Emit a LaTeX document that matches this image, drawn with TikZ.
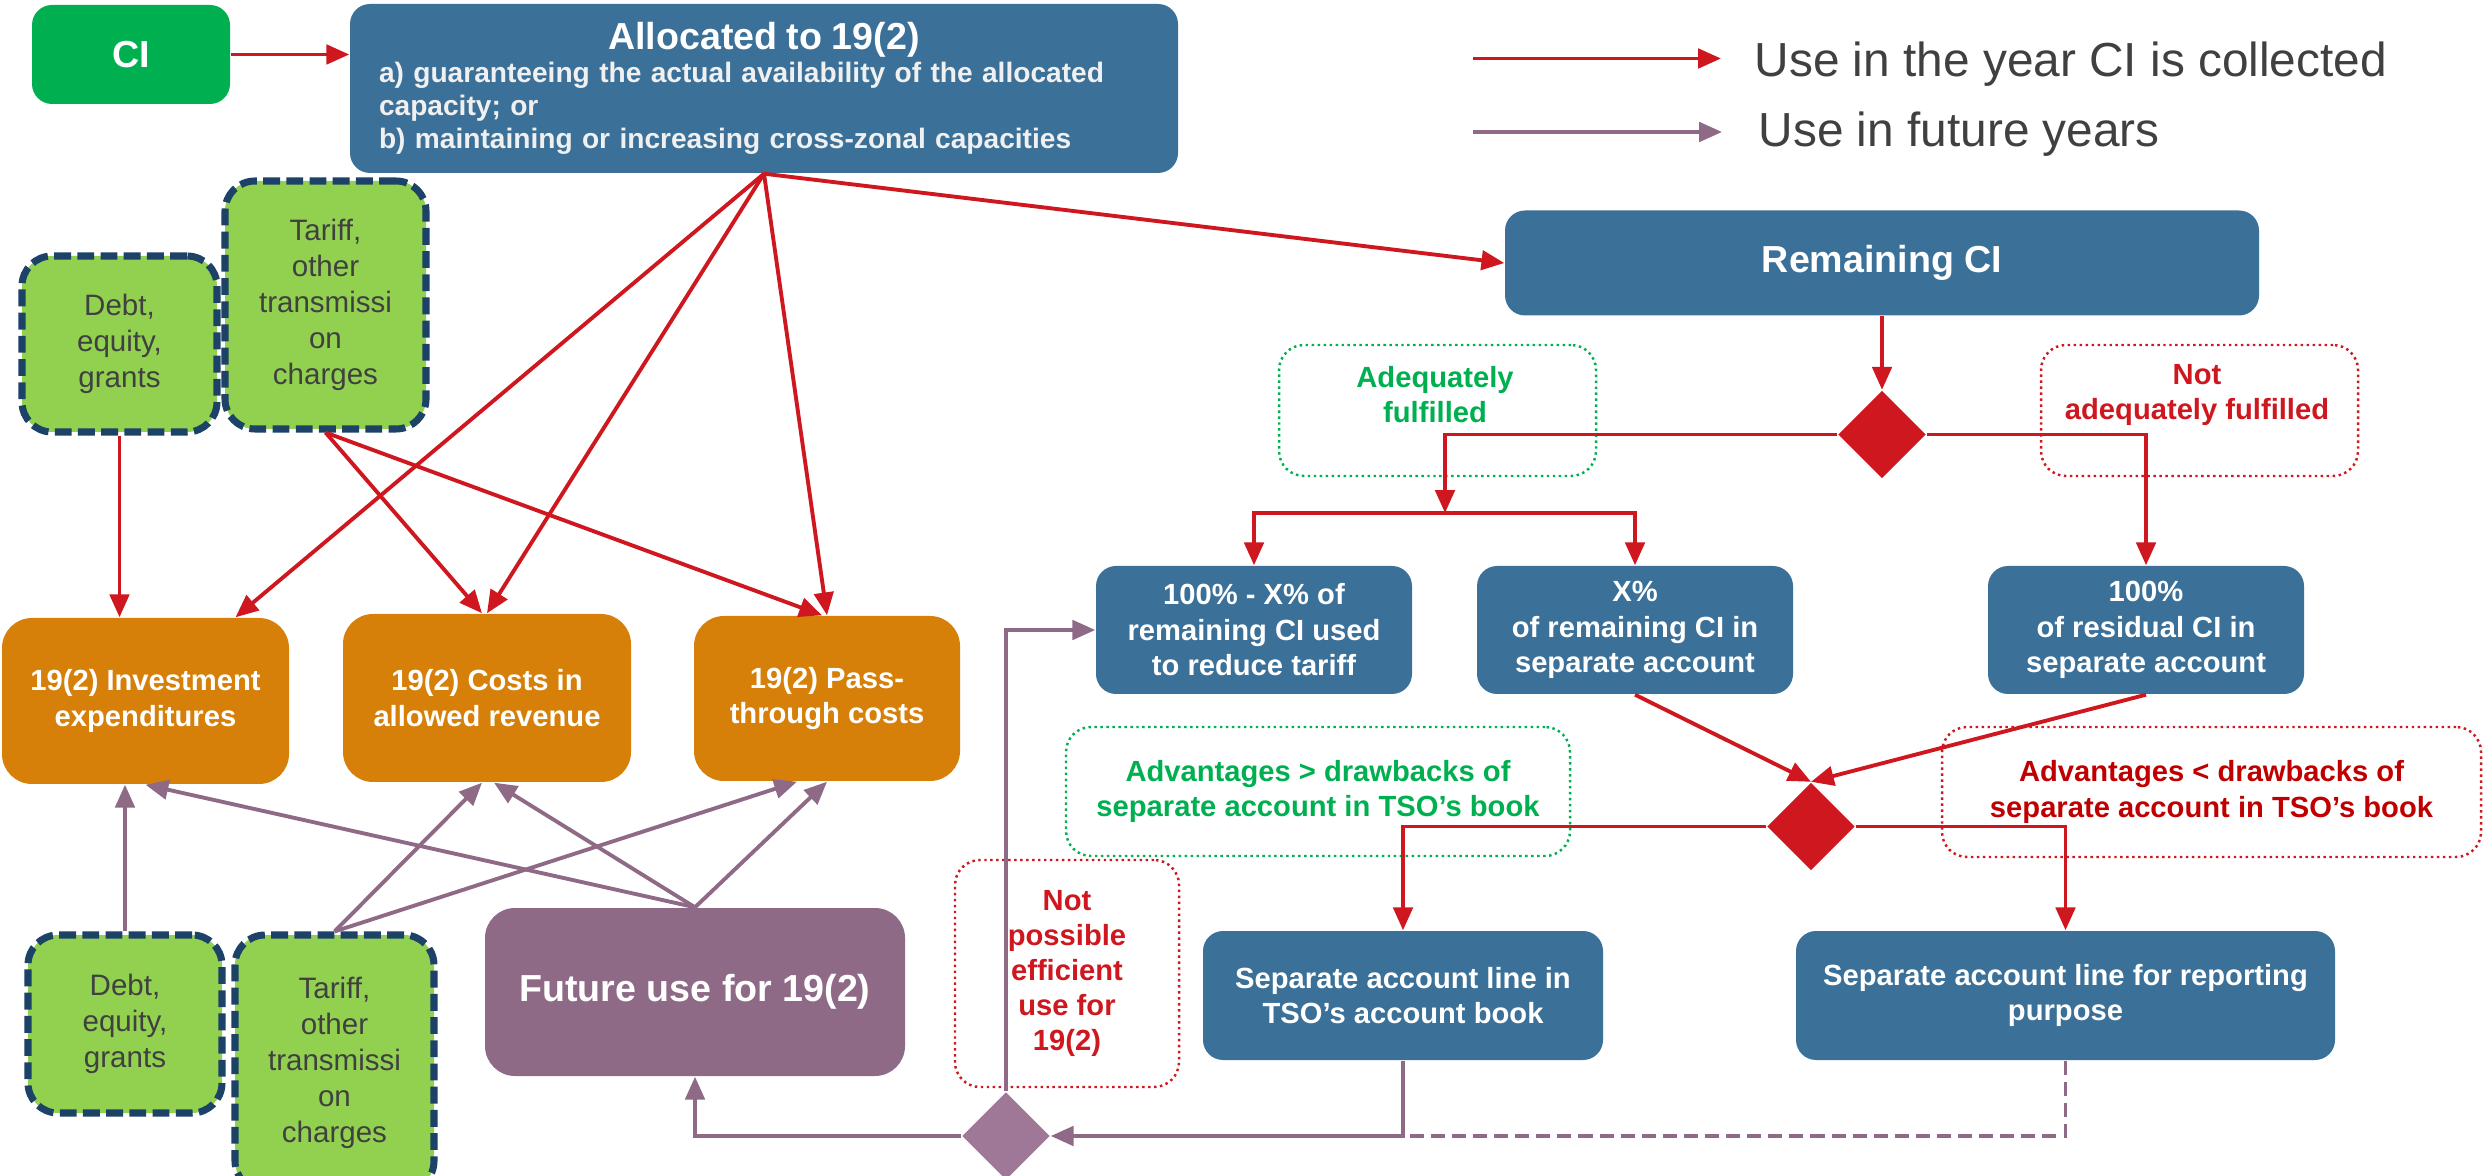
\documentclass[tikz,border=0pt]{standalone}
\usepackage{fontspec}
\setmainfont{Liberation Sans}
\usetikzlibrary{shapes.geometric, arrows.meta}

\definecolor{ciblue}{RGB}{59,112,152}
\definecolor{ciorange}{RGB}{214,128,10}
\definecolor{cigreen}{RGB}{0,176,80}
\definecolor{lightgreen}{RGB}{146,208,80}
\definecolor{navy}{RGB}{28,66,104}
\definecolor{futurepurple}{RGB}{143,106,134}
\definecolor{diapurple}{RGB}{158,120,150}
\definecolor{cired}{RGB}{206,23,31}
\definecolor{darkred}{RGB}{192,0,0}
\definecolor{txtgray}{RGB}{64,64,64}

\begin{document}
\begin{tikzpicture}[
box/.style={rounded corners=0.2cm, text=white, align=center, inner sep=0pt, font=\bfseries\fontsize{8.3}{10.1}\selectfont},
bluebox/.style={box, fill=ciblue},
orangebox/.style={box, fill=ciorange, rounded corners=0.3cm},
title/.style={font=\bfseries\fontsize{10.7}{12.5}\selectfont},
source/.style={rounded corners=0.3cm, fill=lightgreen, draw=navy, line width=2pt, dash pattern=on 4.8pt off 1.8pt, text=txtgray, align=center, inner sep=0pt, font=\fontsize{8.4}{10.2}\selectfont},
note/.style={rounded corners=0.25cm, densely dotted, line width=0.7pt, align=center, inner sep=0pt, font=\bfseries\fontsize{8.3}{10}\selectfont},
choice/.style={diamond, aspect=1, inner sep=0pt, minimum width=0.88cm, minimum height=0.88cm},
now/.style={draw=cired, line width=1.1pt, -{Triangle[length=6.5pt,width=5.5pt]}},
later/.style={draw=futurepurple, line width=1.1pt, -{Triangle[length=6.5pt,width=5.5pt]}}]
\tikzstyle{legend}=[inner sep=0pt, text=txtgray, font=\fontsize{13.6}{16}\selectfont]

\useasboundingbox (0,0) rectangle (24.89,-11.76);

%Top row
\node[box, fill=cigreen, minimum width=1.98cm, minimum height=0.99cm, title] (ci) at (1.31,-0.545) {CI};
\node[bluebox, minimum width=8.28cm, minimum height=1.69cm, text width=7.7cm, align=left, text=white!94!black, font=\bfseries\fontsize{8}{9.4}\selectfont] (alloc) at (7.64,-0.885) {{\centering\color{white}\fontsize{10.7}{12.5}\selectfont Allocated to 19(2)\par}a) guaranteeing the actual availability of the allocated\\capacity; or\\b) maintaining or increasing cross-zonal capacities};

%Legend
\coordinate (keyA) at (14.73,-0.585);
\coordinate (keyAend) at (17.21,-0.585);
\node[legend, anchor=base west] (keyAtext) at (17.54,-0.77) {Use in the year CI is collected};
\coordinate (keyB) at (14.73,-1.32);
\coordinate (keyBend) at (17.22,-1.32);
\node[legend, anchor=base west] (keyBtext) at (17.58,-1.47) {Use in future years};

%Funding
\node[source, minimum width=1.95cm, minimum height=1.76cm] (debtA) at (1.195,-3.44) {Debt,\\equity,\\grants};
\node[source, minimum width=2.01cm, minimum height=2.48cm] (tariffA) at (3.255,-3.05) {Tariff,\\other\\transmissi\\on\\charges};
\node[source, minimum width=1.94cm, minimum height=1.78cm] (debtB) at (1.25,-10.24) {Debt,\\equity,\\grants};
\node[source, minimum width=1.99cm, minimum height=2.56cm] (tariffB) at (3.345,-10.63) {Tariff,\\other\\transmissi\\on\\charges};

%19(2) uses
\node[orangebox, minimum width=2.87cm, minimum height=1.66cm] (invest) at (1.455,-7.01) {19(2) Investment\\expenditures};
\node[orangebox, minimum width=2.88cm, minimum height=1.68cm] (costs) at (4.87,-6.98) {19(2) Costs in\\allowed revenue};
\node[orangebox, minimum width=2.66cm, minimum height=1.65cm] (pass) at (8.27,-6.985) {19(2) Pass-\\through costs};
\node[box, fill=futurepurple, rounded corners=0.3cm, minimum width=4.2cm, minimum height=1.68cm, title] (future) at (6.95,-9.92) {Future use for 19(2)};

%Remaining CI
\node[bluebox, minimum width=7.54cm, minimum height=1.05cm, title] (remaining) at (18.82,-2.63) {Remaining CI};
\node[choice, fill=cired] (d1) at (18.82,-4.345) {};
\node[note, draw=cigreen, minimum width=3.17cm, minimum height=1.31cm] (adeqbox) at (14.375,-4.105) {};
\node[note, text=cigreen] (adeq) at (14.35,-3.95) {Adequately\\fulfilled};
\node[note, draw=cired, minimum width=3.17cm, minimum height=1.31cm] (notadeqbox) at (21.995,-4.105) {};
\node[note, text=cired] (notadeq) at (21.97,-3.95) {Not\\adequately fulfilled};
\coordinate (split) at (14.45,-5.13);

\node[bluebox, minimum width=3.16cm, minimum height=1.28cm] (pctA) at (12.54,-6.30) {100\% - X\% of\\remaining CI used\\to reduce tariff};
\node[bluebox, minimum width=3.16cm, minimum height=1.28cm] (pctB) at (16.35,-6.30) {X\%\\of remaining CI in\\separate account};
\node[bluebox, minimum width=3.16cm, minimum height=1.28cm] (pctC) at (21.46,-6.30) {100\%\\of residual CI in\\separate account};

%Separate account
\node[choice, fill=cired] (d2) at (18.11,-8.265) {};
\node[note, draw=cigreen, text=cigreen, minimum width=5.04cm, minimum height=1.29cm] (advG) at (13.18,-7.915) {Advantages > drawbacks of\\separate account in TSO’s book};
\node[note, draw=cired, text=darkred, minimum width=5.39cm, minimum height=1.30cm] (advR) at (22.115,-7.92) {Advantages < drawbacks of\\separate account in TSO’s book};
\node[bluebox, minimum width=4.0cm, minimum height=1.29cm] (sepA) at (14.03,-9.955) {Separate account line in\\TSO’s account book};
\node[bluebox, minimum width=5.39cm, minimum height=1.29cm] (sepB) at (20.655,-9.955) {Separate account line for reporting\\purpose};
\node[note, draw=cired, text=cired, minimum width=2.24cm, minimum height=2.27cm] (notposs) at (10.67,-9.735) {Not\\possible\\efficient\\use for\\19(2)};
\node[choice, fill=diapurple] (d3) at (10.06,-11.36) {};

%Use in the year CI is collected
\draw[now] (keyA) -- (keyAend);
\draw[now] (ci.east) -- (ci.east -| alloc.west);
\draw[now] (alloc.south) -- ([xshift=0.9cm]invest.north);
\draw[now] (alloc.south) -- (costs.north);
\draw[now] (alloc.south) -- (pass.north);
\draw[now] (alloc.south) -- (remaining.west);
\draw[now] (debtA.south) -- (debtA.south |- invest.north);
\draw[now] (tariffA.south) -- ([xshift=-0.05cm]costs.north);
\draw[now] (tariffA.south) -- ([xshift=-0.05cm]pass.north);
\draw[now] (remaining) -- (d1);
\draw[now] (d1.west) -| (split);
\draw[now] (split) -| (pctA.north);
\draw[now] (split) -| (pctB.north);
\draw[now] (d1.east) -| (pctC.north);
\draw[now] (pctB.south) -- (d2.north);
\draw[now] (pctC.south) -- (d2.north);
\draw[now] (d2.west) -| (sepA.north);
\draw[now] (d2.east) -| (sepB.north);

%Use in future years
\draw[later] (keyB) -- (keyBend);
\draw[later] (debtB.north) -- (debtB.north |- invest.south);
\draw[later] (future.north) -- (invest.south);
\draw[later] (future.north) -- ([xshift=0.07cm]costs.south);
\draw[later] (future.north) -- (pass.south);
\draw[later] (tariffB.north) -- ([xshift=-0.05cm]costs.south);
\draw[later] (tariffB.north) -- ([xshift=-0.3cm]pass.south);
\draw[later] (sepA.south) |- (d3.east);
\draw[draw=futurepurple, line width=1.1pt, dash pattern=on 4pt off 2pt] (sepB.south) |- (sepA.south |- d3.east);
\draw[later] (d3.west) -| (future.south);
\draw[later] (d3.north) |- (pctA.west);
\end{tikzpicture}
\end{document}
